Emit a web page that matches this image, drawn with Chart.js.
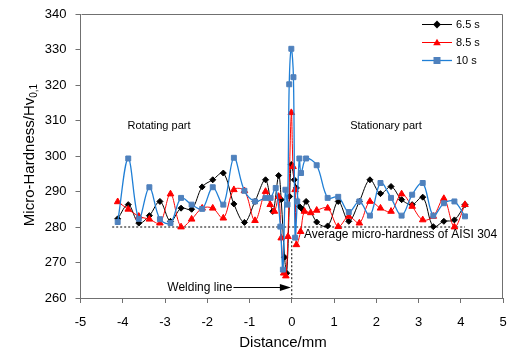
<!DOCTYPE html>
<html><head><meta charset="utf-8">
<script src="https://cdn.jsdelivr.net/npm/chart.js@4"></script>
<style>html,body{margin:0;padding:0;background:#fff}</style>
</head><body>
<canvas id="c" width="514" height="352" style="width:514px;height:352px"></canvas>
<script>
// ---- data ----
const seriesNames = ['6.5 s', '8.5 s', '10 s'];

const x65 = [-4.12,-3.87,-3.62,-3.37,-3.12,-2.87,-2.62,-2.37,-2.12,-1.87,-1.62,-1.37,-1.12,-0.87,-0.62,-0.45,-0.31,-0.25,-0.17,-0.12,-0.05,-0.01,0.06,0.11,0.18,0.25,0.34,0.59,0.85,1.10,1.35,1.60,1.85,2.10,2.35,2.60,2.85,3.10,3.35,3.60,3.85,4.10];
const y65 = [282.3,286.3,281.1,283.2,287.2,281.6,285.3,285.0,291.3,293.3,295.2,286.5,281.3,287.2,293.3,284.4,294.5,287.7,271.5,267.0,288.6,297.6,293.3,291.0,285.8,285.0,287.2,281.4,280.3,287.2,281.6,287.2,293.3,289.4,291.4,287.7,286.3,288.4,280.1,281.6,282.0,286.3];

const x85 = [-4.12,-3.87,-3.62,-3.37,-3.12,-2.87,-2.62,-2.37,-2.12,-1.87,-1.62,-1.37,-1.12,-0.87,-0.62,-0.51,-0.41,-0.31,-0.25,-0.19,-0.14,-0.09,-0.01,0.03,0.08,0.11,0.21,0.30,0.45,0.59,0.85,1.10,1.35,1.60,1.85,2.10,2.35,2.60,2.85,3.10,3.35,3.60,3.85,4.10];
const y85 = [287.1,285.0,283.0,282.2,281.1,289.3,280.0,282.2,285.3,285.3,282.5,290.5,290.2,281.8,290.0,286.3,284.4,288.6,276.9,267.0,266.2,277.3,312.2,297.0,290.5,275.0,278.7,284.4,284.0,284.7,285.3,280.1,283.0,281.1,287.2,285.3,284.4,289.3,285.8,282.0,283.0,288.0,280.0,286.3];

const x10 = [-4.12,-3.87,-3.62,-3.37,-3.12,-2.87,-2.62,-2.37,-2.12,-1.87,-1.62,-1.37,-1.12,-0.87,-0.62,-0.50,-0.38,-0.27,-0.21,-0.15,-0.10,-0.06,-0.01,0.04,0.08,0.13,0.18,0.22,0.34,0.59,0.85,1.10,1.35,1.60,1.85,2.10,2.35,2.60,2.85,3.10,3.35,3.60,3.85,4.10];
const y10 = [281.4,299.3,282.3,291.2,282.2,281.1,288.2,286.3,285.1,291.2,286.3,299.5,290.2,287.2,288.2,288.2,291.0,280.1,268.0,290.5,286.3,320.2,330.2,322.2,277.0,287.2,299.3,295.2,299.3,297.4,288.2,288.5,284.2,287.2,283.2,292.4,288.2,283.2,289.1,292.4,283.2,286.7,287.2,283.0];

const avgX = [-4.25, 4.1];
const avgY = [280, 280];
const weldX = [0.0, 0.0];
const weldY = [276, 260];

const xTicks = [-5,-4,-3,-2,-1,0,1,2,3,4,5];
const yTicks = [260,270,280,290,300,310,320,330,340];

// ---- build ----
function pts(xs, ys){ return xs.map((x,i)=>({x:x, y:ys[i]})); }

const FONT = "'Liberation Sans', Arial, Helvetica, sans-serif";
Chart.defaults.font.family = FONT;
Chart.defaults.color = '#000';

const styles = [
  {line:'#000000', fill:'#000000', shape:'rectRot', r:3, w:1, order:2},
  {line:'#ff0000', fill:'#ff0000', shape:'triangle', r:3.8, w:1, order:1},
  {line:'#1f7fd6', fill:'#4f81bd', shape:'rect', r:3.5, w:1.3, order:0}
];
const seriesX = [x65, x85, x10];
const seriesY = [y65, y85, y10];

const datasets = seriesNames.map((n,i)=>({
  label:n, data:pts(seriesX[i], seriesY[i]), showLine:true,
  borderColor:styles[i].line, borderWidth:styles[i].w,
  pointStyle:styles[i].shape, pointRadius:styles[i].r,
  pointBackgroundColor:styles[i].fill, pointBorderColor:styles[i].fill,
  pointBorderWidth:1, tension:0.35, order:styles[i].order
}));
datasets.push({label:'avg', data:pts(avgX, avgY), showLine:true, borderColor:'#000', borderWidth:1, borderDash:[2,2], pointRadius:0, order:5});
datasets.push({label:'weld', data:pts(weldX, weldY), showLine:true, borderColor:'#000', borderWidth:1, borderDash:[2,2], pointRadius:0, order:5});

function marker(ctx, shape, x, y, r){
  ctx.beginPath();
  if(shape==='rect'){ ctx.rect(x-r, y-r, 2*r, 2*r); }
  else if(shape==='rectRot'){ ctx.moveTo(x, y-r*1.3); ctx.lineTo(x+r*1.3, y); ctx.lineTo(x, y+r*1.3); ctx.lineTo(x-r*1.3, y); ctx.closePath(); }
  else { const h=r*1.5; ctx.moveTo(x, y-h*0.66); ctx.lineTo(x+r, y+h*0.5); ctx.lineTo(x-r, y+h*0.5); ctx.closePath(); }
  ctx.fill();
}

function noPad(s){ s.paddingLeft = 0; s.paddingRight = 0; s.paddingTop = 0; s.paddingBottom = 0; }

const deco = {
  id:'deco',
  afterDraw(chart){
    const ctx = chart.ctx, a = chart.chartArea, sx = chart.scales.x, sy = chart.scales.y;
    ctx.save();
    // frame top & right
    ctx.strokeStyle = '#707070'; ctx.lineWidth = 1;
    ctx.beginPath();
    ctx.moveTo(Math.round(a.left)+0.5, Math.round(a.top)+0.5);
    ctx.lineTo(Math.round(a.right)-0.5, Math.round(a.top)+0.5);
    ctx.lineTo(Math.round(a.right)-0.5, Math.round(a.bottom));
    ctx.stroke();

    // legend
    ctx.font = '11px ' + FONT; ctx.textBaseline = 'middle'; ctx.textAlign = 'left';
    const rows = [24.5, 42.5, 60.5];
    seriesNames.forEach((n,i)=>{
      const st = styles[i], yy = rows[i];
      ctx.strokeStyle = st.line; ctx.lineWidth = st.w;
      ctx.beginPath(); ctx.moveTo(422, yy); ctx.lineTo(452, yy); ctx.stroke();
      ctx.fillStyle = st.fill; marker(ctx, st.shape, 437, yy, st.r);
      ctx.fillStyle = '#000'; ctx.fillText(n, 456, yy+0.5);
    });

    // annotations
    ctx.fillStyle = '#000';
    ctx.font = '11px ' + FONT; ctx.textAlign = 'center';
    ctx.fillText('Rotating part', 159, 126);
    ctx.fillText('Stationary part', 386, 126);
    ctx.font = '12px ' + FONT; ctx.textAlign = 'left';
    ctx.fillText('Average micro-hardness of AISI 304', 304, 235);

    // welding line arrow
    const ay = Math.round(sy.getPixelForValue(263.2)) + 0.5;
    const x0 = sx.getPixelForValue(-1.38), x1 = sx.getPixelForValue(-0.02);
    ctx.strokeStyle = '#000'; ctx.lineWidth = 1.2;
    ctx.beginPath(); ctx.moveTo(x0, ay); ctx.lineTo(x1-8, ay); ctx.stroke();
    ctx.beginPath(); ctx.moveTo(x1, ay); ctx.lineTo(x1-11, ay-3.5); ctx.lineTo(x1-11, ay+3.5); ctx.closePath(); ctx.fill();
    ctx.textAlign = 'right';
    ctx.fillText('Welding line', x0 - 1, ay);

    // axis titles
    ctx.font = '15px ' + FONT; ctx.textAlign = 'center';
    ctx.fillText('Distance/mm', 283, 343);

    ctx.translate(30, 155); ctx.rotate(-Math.PI/2);
    const main = 'Micro-Hardness/Hv', sub = '0,1';
    ctx.font = '15px ' + FONT; const w1 = ctx.measureText(main).width;
    ctx.font = '10px ' + FONT; const w2 = ctx.measureText(sub).width;
    const start = -(w1+w2)/2;
    ctx.textAlign = 'left';
    ctx.font = '15px ' + FONT; ctx.fillText(main, start, 0);
    ctx.font = '10px ' + FONT; ctx.fillText(sub, start + w1, 4);
    ctx.restore();
  }
};

new Chart(document.getElementById('c'), {
  type:'scatter',
  data:{datasets:datasets},
  options:{
    responsive:false, animation:false, devicePixelRatio:1,
    layout:{padding:{top:14, right:11, left:0, bottom:0}},
    plugins:{legend:{display:false}, tooltip:{enabled:false}, title:{display:false}},
    scales:{
      x:{type:'linear', min:-5, max:5,
        afterBuildTicks(s){ s.ticks = xTicks.map(v=>({value:v})); },
        afterFit(s){ s.height = 54; noPad(s); },
        grid:{drawOnChartArea:false, drawTicks:true, tickLength:5, color:'#707070'},
        border:{color:'#707070'},
        ticks:{font:{size:13}, padding:12, color:'#000', maxRotation:0, callback:v=>String(v)}
      },
      y:{type:'linear', min:260, max:340,
        afterBuildTicks(s){ s.ticks = yTicks.map(v=>({value:v})); },
        afterFit(s){ s.width = 80.5; noPad(s); },
        grid:{drawOnChartArea:false, drawTicks:true, tickLength:5, color:'#707070'},
        border:{color:'#707070'},
        ticks:{font:{size:13}, padding:9, color:'#000', callback:v=>String(v)}
      }
    }
  },
  plugins:[deco]
});
</script>
</body></html>
